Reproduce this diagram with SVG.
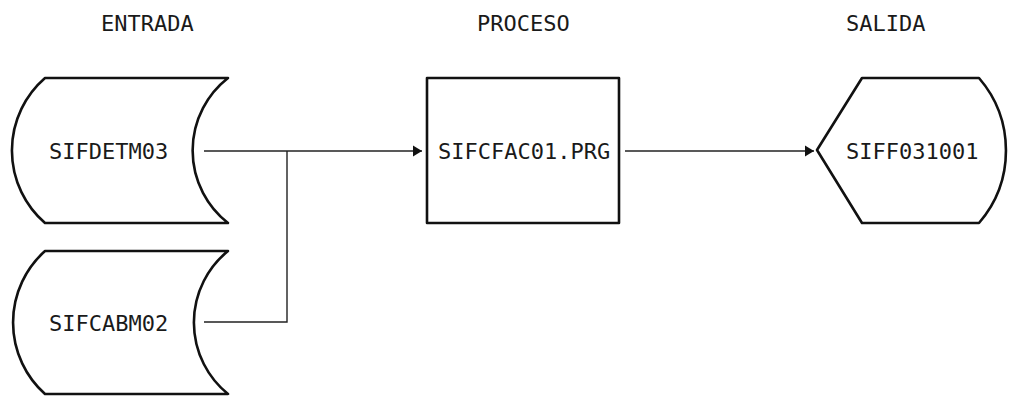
<svg xmlns="http://www.w3.org/2000/svg" width="1009" height="400" viewBox="0 0 1009 400">
  <style>
    .bg { fill: #ffffff; }
    .shape { fill: #ffffff; stroke: #111111; stroke-width: 2.6; stroke-linejoin: round; }
    .conn { fill: none; stroke: #222222; stroke-width: 1.4; }
    .lbl { font-family: "DejaVu Sans Mono", "Liberation Mono", monospace; font-size: 22px; fill: #1a1a1a; }
  </style>
  <defs>
    <marker id="arrow" markerUnits="userSpaceOnUse" viewBox="0 0 10 12" markerWidth="9" markerHeight="12" refX="10" refY="6" orient="auto">
      <path d="M0,0 L10,6 L0,12 Z" fill="#111111"/>
    </marker>
  </defs>
  <rect class="bg" x="0" y="0" width="1009" height="400"/>

  <g id="headers">
    <text class="lbl" x="101" y="31">ENTRADA</text>
    <text class="lbl" x="477" y="31">PROCESO</text>
    <text class="lbl" x="846" y="31">SALIDA</text>
  </g>

  <g id="connectors">
    <path class="conn" d="M204,151 H422" marker-end="url(#arrow)"/>
    <path class="conn" d="M204,322 H287 V151"/>
    <path class="conn" d="M625,151 H814" marker-end="url(#arrow)"/>
  </g>

  <g id="n-sifdetm03">
    <path class="shape" d="M45,78 L228,78 A92,92 0 0 0 228,223 L45,223 A96,96 0 0 1 45,78 Z"/>
    <text class="lbl" x="49" y="159">SIFDETM03</text>
  </g>

  <g id="n-sifcabm02">
    <path class="shape" d="M45,251 L228,251 A92,92 0 0 0 228,394 L45,394 A96,96 0 0 1 45,251 Z"/>
    <text class="lbl" x="49" y="331">SIFCABM02</text>
  </g>

  <g id="n-sifcfac01">
    <rect class="shape" x="427" y="78" width="192" height="145"/>
    <text class="lbl" x="438" y="159">SIFCFAC01.PRG</text>
  </g>

  <g id="n-siff031001">
    <path class="shape" d="M817,150 L862,78 L979,78 A111,111 0 0 1 979,223 L862,223 Z"/>
    <text class="lbl" x="846" y="159">SIFF031001</text>
  </g>
</svg>
